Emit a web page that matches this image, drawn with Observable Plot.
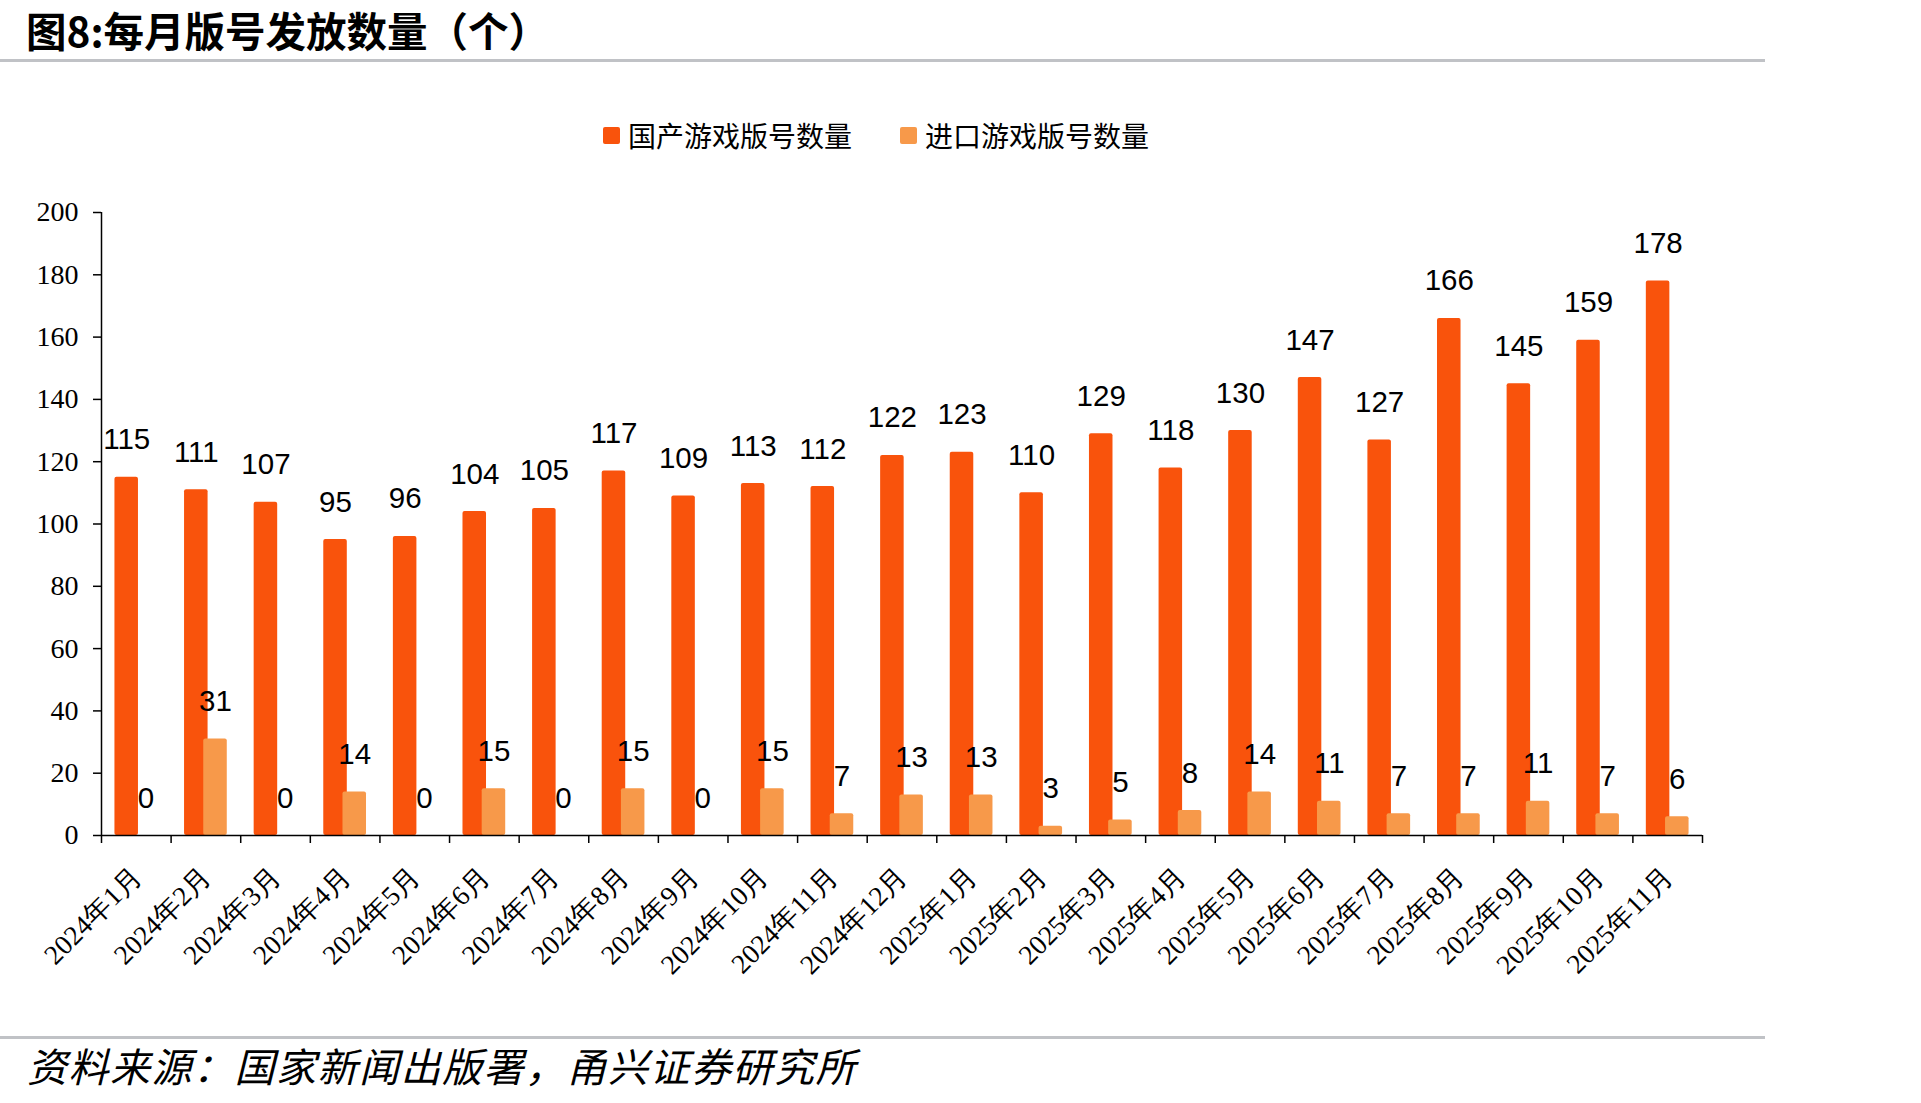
<!DOCTYPE html>
<html><head><meta charset="utf-8">
<script src="https://cdn.jsdelivr.net/npm/d3@7"></script>
<script src="https://cdn.jsdelivr.net/npm/@observablehq/plot@0.6"></script>
<style>
body{margin:0;background:#fff;width:1921px;height:1103px;position:relative;overflow:hidden;font-family:"Noto Sans CJK SC",sans-serif;color:#000;}
#title{position:absolute;left:26px;top:0px;font-size:40.5px;font-weight:bold;line-height:normal;white-space:nowrap;}
.hr{position:absolute;left:0;width:1765px;height:3px;background:#c0c2c6;}
#legend{position:absolute;left:603px;top:115px;height:40px;display:flex;align-items:center;font-size:28px;white-space:nowrap;}
.item{display:flex;align-items:center;}
.sw{width:17px;height:17px;margin-right:8px;border-radius:2px;}
#chart{position:absolute;left:0;top:180px;}
#footer{position:absolute;left:27px;top:1039px;font-size:40px;font-style:italic;line-height:52px;letter-spacing:1.5px;white-space:nowrap;}
</style></head><body>
<div id="title"></div>
<div class="hr" style="top:59px"></div>
<div id="legend"></div>
<div id="chart"></div>
<div class="hr" style="top:1036px"></div>
<div id="footer"></div>
<script>
const titleText = "图8:每月版号发放数量（个）";
const sourceText = "资料来源：国家新闻出版署，甬兴证券研究所";
const months = ["2024年1月","2024年2月","2024年3月","2024年4月","2024年5月","2024年6月","2024年7月","2024年8月","2024年9月","2024年10月","2024年11月","2024年12月","2025年1月","2025年2月","2025年3月","2025年4月","2025年5月","2025年6月","2025年7月","2025年8月","2025年9月","2025年10月","2025年11月"];
const domestic = [115,111,107,95,96,104,105,117,109,113,112,122,123,110,129,118,130,147,127,166,145,159,178];
const imported = [0,31,0,14,0,15,0,15,0,15,7,13,13,3,5,8,14,11,7,7,11,7,6];
const seriesNames = ["国产游戏版号数量","进口游戏版号数量"];
const colors = ["#F9530C","#F7994A"];
const yTicks = [0,20,40,60,80,100,120,140,160,180,200];

document.getElementById("title").textContent = titleText;
document.getElementById("footer").textContent = sourceText;
const legend = document.getElementById("legend");
seriesNames.forEach((name, i) => {
  const it = document.createElement("div");
  it.className = "item";
  if (i > 0) it.style.marginLeft = "48px";
  const sw = document.createElement("div");
  sw.className = "sw";
  sw.style.background = colors[i];
  const t = document.createElement("span");
  t.textContent = name;
  it.appendChild(sw); it.appendChild(t);
  legend.appendChild(it);
});

const W = 1921, H = 840, mL = 101, mR = 219, mT = 32, mB = 185;
const step = (W - mL - mR) / months.length;
const barRatio = 0.338;
const off = 9.6;
const dom = months.map((m, i) => ({month: m, value: domestic[i]}));
const imp = months.map((m, i) => ({month: m, value: imported[i]}));
const labelFont = {fontSize: 29.5, fontFamily: "Liberation Sans, Arial, sans-serif", fill: "#000", lineAnchor: "bottom", dy: -28};

const chart = Plot.plot({
  width: W, height: H,
  marginLeft: mL, marginRight: mR, marginTop: mT, marginBottom: mB,
  style: {background: "transparent", color: "#000"},
  x: {domain: months, round: false, paddingInner: 1 - barRatio, paddingOuter: (1 - barRatio) / 2, label: null},
  y: {domain: [0, 200], label: null},
  marks: [
    Plot.barY(dom, {x: "month", y: "value", fill: colors[0], dx: -off, rx: 2}),
    Plot.barY(imp, {x: "month", y: "value", fill: colors[1], dx: off, rx: 2}),
    Plot.text(dom, {x: "month", y: "value", text: d => String(d.value), dx: -off, ...labelFont}),
    Plot.text(imp, {x: "month", y: "value", text: d => String(d.value), dx: off, ...labelFont}),
    Plot.ruleY([0], {stroke: "#000", strokeWidth: 1.5}),
    Plot.ruleX([months[0]], {dx: -step / 2, stroke: "#000", strokeWidth: 1.5}),
    Plot.axisY({ticks: yTicks, tickSize: 8, tickPadding: 15, tickFormat: d => String(d), fontSize: 28, fontFamily: "Liberation Serif, serif", strokeWidth: 1.5, label: null}),
    Plot.axisX({tickSize: 8, tickFormat: () => "", dx: -step / 2, strokeWidth: 1.5, label: null}),
    Plot.axisX([months[months.length - 1]], {tickSize: 8, tickFormat: () => "", dx: step / 2, strokeWidth: 1.5, label: null}),
    Plot.axisX({tickSize: 0, tickRotate: -45, tickPadding: 36, dx: 1, fontSize: 27.5, fontFamily: "Liberation Serif, serif", label: null})
  ]
});
document.getElementById("chart").appendChild(chart);
</script>
</body></html>
